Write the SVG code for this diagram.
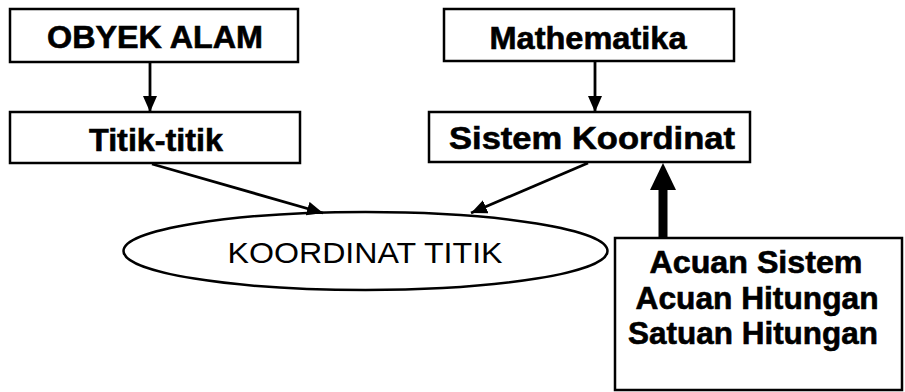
<svg xmlns="http://www.w3.org/2000/svg" width="905" height="392" viewBox="0 0 905 392">
<style>
.box{fill:#fff;stroke:#000;stroke-width:2.5}
.t{font-family:"Liberation Sans",Arial,sans-serif;font-weight:bold;fill:#000;text-anchor:middle;stroke:#000;stroke-width:0.6}
.tn{font-family:"Liberation Sans",Arial,sans-serif;fill:#000;text-anchor:middle}
.ln{stroke:#000;stroke-width:2.8;fill:none}
</style>
<defs>
<marker id="ah" viewBox="0 0 16 14" refX="16" refY="7" markerWidth="16" markerHeight="14" markerUnits="userSpaceOnUse" orient="auto">
<path d="M0,0 L16,7 L0,14 Z" fill="#000"/>
</marker>
</defs>
<rect width="905" height="392" fill="#fff"/>
<g id="obyek">
<rect class="box" x="10" y="9" width="288" height="53"/>
<text class="t" x="155" y="48" font-size="31" textLength="216" lengthAdjust="spacingAndGlyphs">OBYEK ALAM</text>
</g>
<g id="titik">
<rect class="box" x="10" y="112" width="290" height="51"/>
<text class="t" x="156" y="151" font-size="31" textLength="134" lengthAdjust="spacingAndGlyphs">Titik-titik</text>
</g>
<g id="math">
<rect class="box" x="444" y="9" width="290" height="52"/>
<text class="t" x="588" y="49" font-size="31" textLength="197" lengthAdjust="spacingAndGlyphs">Mathematika</text>
</g>
<g id="sistem">
<rect class="box" x="429" y="112" width="321" height="50"/>
<text class="t" x="592" y="149" font-size="32" textLength="286" lengthAdjust="spacingAndGlyphs">Sistem Koordinat</text>
</g>
<g id="koordinat">
<ellipse class="box" cx="365.5" cy="251" rx="242" ry="39"/>
<text class="tn" x="365" y="263" font-size="30" textLength="275" lengthAdjust="spacingAndGlyphs">KOORDINAT TITIK</text>
</g>
<g id="acuan">
<rect class="box" x="615" y="238" width="287" height="152" stroke-width="3"/>
<text class="t" x="756" y="273" font-size="31" textLength="213" lengthAdjust="spacingAndGlyphs">Acuan Sistem</text>
<text class="t" x="757" y="308.5" font-size="31" textLength="243" lengthAdjust="spacingAndGlyphs">Acuan Hitungan</text>
<text class="t" x="753" y="344" font-size="31" textLength="250" lengthAdjust="spacingAndGlyphs">Satuan Hitungan</text>
</g>
<g id="connectors">
<line class="ln" x1="150" y1="62" x2="150" y2="112" marker-end="url(#ah)"/>
<line class="ln" x1="595" y1="61" x2="595" y2="112" marker-end="url(#ah)"/>
<line class="ln" x1="152" y1="164" x2="323" y2="213" marker-end="url(#ah)"/>
<line class="ln" x1="588" y1="163" x2="471" y2="213" marker-end="url(#ah)"/>
<line x1="663" y1="237" x2="663" y2="186" stroke="#000" stroke-width="9"/>
<path d="M650,190 L663,163 L676,190 Z" fill="#000"/>
</g>
</svg>
